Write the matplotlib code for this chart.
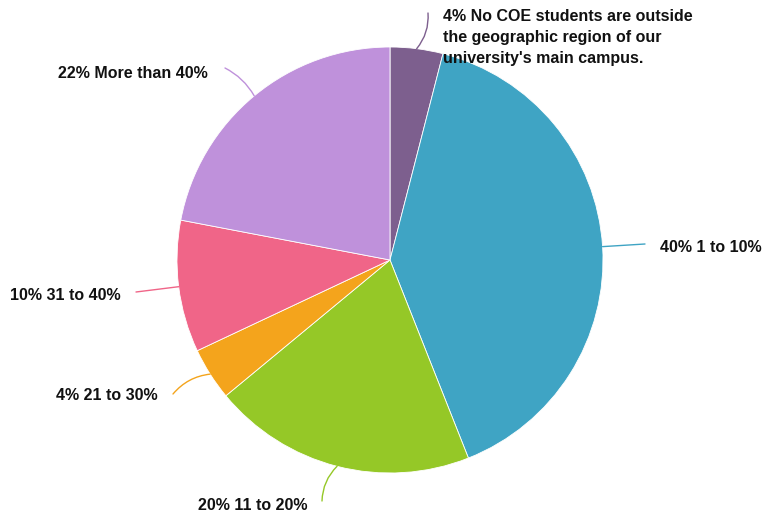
import numpy as np
import matplotlib.pyplot as plt

# share of COE students outside the main campus region
labels = [
    "No COE students are outside\nthe geographic region of our\nuniversity's main campus.",
    "1 to 10%",
    "11 to 20%",
    "21 to 30%",
    "31 to 40%",
    "More than 40%",
]
values = [4, 40, 20, 4, 10, 22]
colors = ["#7d5f8e", "#3fa4c4", "#95c827", "#f4a41c", "#f06588", "#bf91db"]

W, H = 763, 518
fig = plt.figure(figsize=(W / 100, H / 100), dpi=100)
ax = fig.add_axes([0, 0, 1, 1])

cx, cy, r = 390, H - 260, 213
wedges, _ = ax.pie(values, colors=colors, startangle=90, counterclock=False,
                   center=(cx, cy), radius=r, frame=True,
                   wedgeprops=dict(edgecolor="white", linewidth=0.6))
ax.set_xlim(0, W)
ax.set_ylim(0, H)
ax.set_aspect("equal")
ax.axis("off")

# leader end, text position (pixels from top-left), alignment, curve
label_pos = [
    ((428, 13), (443, 9), "left", -0.2),
    ((645, 244), (660, 248), "left", 0.0),
    ((322, 501), (307, 505), "right", -0.2),
    ((173, 394), (158, 396), "right", -0.2),
    ((136, 292), (121, 296), "right", 0.0),
    ((225, 68), (208, 73), "right", -0.15),
]

total = sum(values)
start = 0
for val, lab, col, (end, tpos, ha, rad) in zip(values, labels, colors, label_pos):
    mid = (start + val / 2) / total * 2 * np.pi
    start += val
    px = cx + r * np.sin(mid)
    py = cy + r * np.cos(mid)
    ax.annotate("", xy=(px, py), xytext=(end[0], H - end[1]),
                arrowprops=dict(arrowstyle="-", color=col, lw=1.0,
                                shrinkA=0, shrinkB=0,
                                connectionstyle=f"arc3,rad={rad}"))
    ax.text(tpos[0], H - tpos[1], f"{val}% {lab}", ha=ha,
            va="top" if "\n" in lab else "center",
            fontsize=11.5, fontweight="bold", family="Liberation Sans",
            color="#111111", linespacing=1.5)

fig.savefig("out.png", dpi=100)
